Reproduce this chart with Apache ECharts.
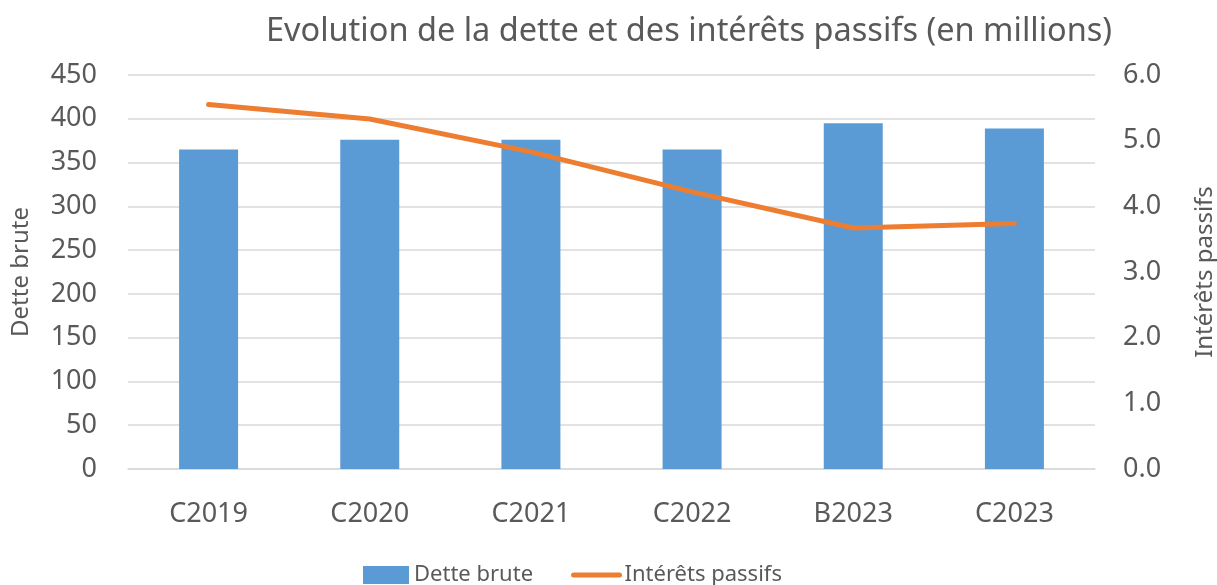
<!DOCTYPE html>
<html>
<head>
<meta charset="utf-8">
<script src="https://cdn.jsdelivr.net/npm/echarts@6/dist/echarts.min.js"></script>
<style>
  html, body { margin: 0; padding: 0; background: #fff; }
  #chart { width: 1217px; height: 585px; }
</style>
</head>
<body>
<div id="chart"></div>
<script>
var categories = ['C2019', 'C2020', 'C2021', 'C2022', 'B2023', 'C2023'];
var detteBrute = [365, 376, 376, 365, 395, 389];
var interetsPassifs = [5.55, 5.33, 4.83, 4.22, 3.67, 3.74];

var font = 'Noto Sans';
var grey = '#595959';

var myChart = echarts.init(document.getElementById('chart'));
var option = {
    animation: false,
    title: {
        text: 'Evolution de la dette et des intérêts passifs (en millions)',
        left: 684,
        textAlign: 'center',
        top: 10,
        textStyle: {color: grey, fontFamily: font, fontSize: 32.5, fontWeight: 'normal'}
    },
    legend: {
        data: [
            {name: 'Dette brute', icon: 'rect'},
            {
                name: 'Intérêts passifs',
                itemStyle: {opacity: 0},
                lineStyle: {width: 5, cap: 'round'}
            }
        ],
        top: 559,
        left: 358,
        itemWidth: 46,
        itemHeight: 18,
        itemGap: 38,
        textStyle: {color: grey, fontFamily: font, fontSize: 22}
    },
    grid: {left: 128, right: 122, top: 75, bottom: 116, outerBoundsMode: 'none'},
    xAxis: {
        type: 'category',
        data: categories,
        axisLine: {lineStyle: {color: '#d9d9d9', width: 1.5}},
        axisTick: {show: false},
        axisLabel: {color: grey, fontFamily: font, fontSize: 27, margin: 32}
    },
    yAxis: [
        {
            type: 'value',
            min: 0, max: 450, interval: 50,
            name: 'Dette brute',
            nameLocation: 'middle',
            nameGap: 95,
            nameTextStyle: {color: grey, fontFamily: font, fontSize: 24},
            axisLine: {show: false},
            axisTick: {show: false},
            axisLabel: {color: grey, fontFamily: font, fontSize: 27, margin: 31},
            splitLine: {lineStyle: {color: '#d9d9d9', width: 1.5}}
        },
        {
            type: 'value',
            min: 0, max: 6, interval: 1,
            name: 'Intérêts passifs',
            nameLocation: 'middle',
            nameGap: 98,
            nameRotate: 90,
            nameTextStyle: {color: grey, fontFamily: font, fontSize: 24},
            axisLine: {show: false},
            axisTick: {show: false},
            axisLabel: {
                color: grey, fontFamily: font, fontSize: 27, margin: 28,
                formatter: function (v) { return v.toFixed(1); }
            },
            splitLine: {show: false}
        }
    ],
    series: [
        {
            name: 'Dette brute',
            type: 'bar',
            barWidth: 59,
            itemStyle: {color: '#5B9BD5'},
            data: detteBrute
        },
        {
            name: 'Intérêts passifs',
            type: 'line',
            yAxisIndex: 1,
            symbol: 'none',
            lineStyle: {color: '#ED7D31', width: 5, cap: 'round', join: 'round'},
            itemStyle: {color: '#ED7D31'},
            data: interetsPassifs
        }
    ]
};
myChart.setOption(option);
</script>
</body>
</html>
